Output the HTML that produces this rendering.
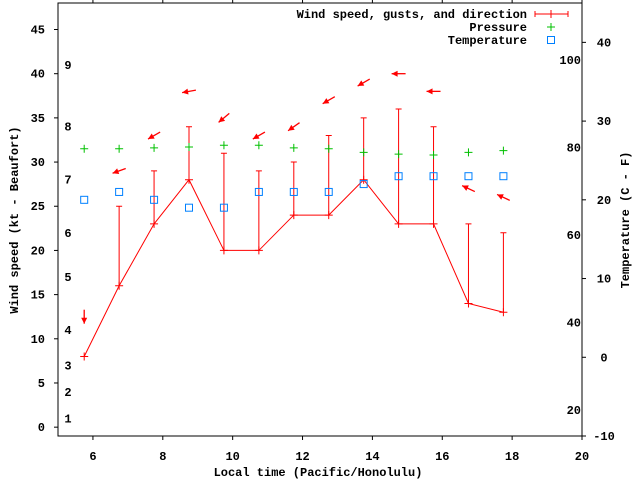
<!DOCTYPE html>
<html><head><meta charset="utf-8"><style>
body{margin:0;background:#fff;width:640px;height:480px;overflow:hidden}
svg text{font-family:"Liberation Mono",monospace;font-weight:bold;font-size:12px;fill:#000}
</style></head><body>
<svg id="chart" width="640" height="480" xmlns="http://www.w3.org/2000/svg"></svg>
<script>
const times=[5.75,6.75,7.75,8.75,9.75,10.75,11.75,12.75,13.75,14.75,15.75,16.75,17.75];
const windKt=[8,16,23,28,20,20,24,24,28,23,23,14,13];
const gustKt=[null,25,29,34,31,29,30,33,35,36,34,23,22];
const pressure=[31.5,31.5,31.6,31.7,31.9,31.9,31.6,31.5,31.1,30.9,30.8,31.1,31.3];
const tempC=[20,21,20,19,19,21,21,21,22,23,23,23,23];
const windDir=[360,70,60,80,50,60,55,60,60,90,90,115,115];
const arrowKt=[12.5,29,33,38,35,33,34,37,39,40,38,27,26];
const xTicks=[6,8,10,12,14,16,18,20];
const yTicks=[0,5,10,15,20,25,30,35,40,45];
const tTicks=[-10,0,10,20,30,40];
const fLabels=[20,40,60,80,100];
const bLabels=[[1,1],[2,4],[3,7],[4,11],[5,17],[6,22],[7,28],[8,34],[9,41]];

const L=58,R=582,T=3,B=436;
const X=v=>L+(v-5)*(R-L)/15;
const Y=v=>B-(v+1)*(B-T)/49;
const YT=v=>B-(v+10)*(B-T)/55;
const YF=f=>YT((f-32)*5/9);
const svg=document.getElementById('chart');
const NS='http://www.w3.org/2000/svg';
function mk(tag,attrs,name,parent){const e=document.createElementNS(NS,tag);for(const k in attrs)e.setAttribute(k,attrs[k]);


(parent||svg).appendChild(e);return e;}
function txt(x,y,s,name,anchor){const t=mk('text',{x:x,y:y,'text-anchor':anchor||'middle'},name);t.textContent=s;return t;}

mk('rect',{x:L,y:T,width:R-L,height:B-T,fill:'none',stroke:'#000','stroke-width':1},'plot-border');
xTicks.forEach(v=>{mk('line',{x1:X(v),y1:B,x2:X(v),y2:B+4,stroke:'#000'},'x-tick');
mk('line',{x1:X(v),y1:T,x2:X(v),y2:T-4,stroke:'#000'},'x-tick-top');
txt(X(v),B+24,String(v),'x-tick-label');});
yTicks.forEach(v=>{mk('line',{x1:L,y1:Y(v),x2:L-4,y2:Y(v),stroke:'#000'},'y-tick');
txt(L-13,Y(v)+4,String(v),'y-tick-label','end');});
tTicks.forEach(v=>{mk('line',{x1:R,y1:YT(v),x2:R+4,y2:YT(v),stroke:'#000'},'temp-tick');
txt(R+22,YT(v)+4,String(v),'temp-tick-label');});
fLabels.forEach(f=>txt(R-1,YF(f)+4,String(f),'fahrenheit-label','end'));
bLabels.forEach(b=>txt(68,Y(b[1])+4,String(b[0]),'beaufort-label'));

txt(318,476,'Local time (Pacific/Honolulu)','x-axis-title');
const yl=txt(0,0,'Wind speed (kt - Beaufort)','y-axis-title');yl.setAttribute('transform','translate(18,220) rotate(-90)');
const yr=txt(0,0,'Temperature (C - F)','y2-axis-title');yr.setAttribute('transform','translate(629,220) rotate(-90)');

// wind line
mk('polyline',{points:times.map((t,i)=>X(t)+','+Y(windKt[i])).join(' '),fill:'none',stroke:'#f00'},'wind-speed-line');
times.forEach((t,i)=>{const x=X(t),y=Y(windKt[i]);
mk('path',{d:`M${x-4},${y}H${x+4}M${x},${y-4}V${y+4}`,stroke:'#f00'},'wind-point');
if(gustKt[i]!=null){const g=Y(gustKt[i]);mk('path',{d:`M${x},${y}V${g}M${x-3},${g}H${x+3}`,stroke:'#f00'},'gust-bar');}
});
// pressure
times.forEach((t,i)=>{const x=X(t),y=Y(pressure[i]);
mk('path',{d:`M${x-4},${y}H${x+4}M${x},${y-4}V${y+4}`,stroke:'#00c000'},'pressure-point');});
// temperature
times.forEach((t,i)=>{const x=X(t),y=YT(tempC[i]);
mk('rect',{x:x-3.5,y:y-3.5,width:7,height:7,fill:'none',stroke:'#0080ff'},'temperature-point');});
// arrows
times.forEach((t,i)=>{const cx=X(t),cy=Y(arrowKt[i]);const b=(windDir[i]+180)*Math.PI/180;
const dx=Math.sin(b),dy=-Math.cos(b);const x1=cx-dx*7,y1=cy-dy*7,x2=cx+dx*7,y2=cy+dy*7;
const px=-dy,py=dx;
mk('line',{x1:x1,y1:y1,x2:x2,y2:y2,stroke:'#f00','stroke-width':1.3},'direction-arrow');
mk('polygon',{points:`${x2},${y2} ${x2-dx*6+px*3},${y2-dy*6+py*3} ${x2-dx*6-px*3},${y2-dy*6-py*3}`,fill:'#f00'},'direction-arrow-head');});

// legend
txt(527,18,'Wind speed, gusts, and direction','legend-wind-label','end');
mk('path',{d:'M535,14H568M535,11V17M568,11V17M551,10V18',stroke:'#f00'},'legend-wind-sample');
txt(527,31,'Pressure','legend-pressure-label','end');
mk('path',{d:'M547,27H555M551,23V31',stroke:'#00c000'},'legend-pressure-sample');
txt(527,44,'Temperature','legend-temperature-label','end');
mk('rect',{x:547.5,y:36.5,width:7,height:7,fill:'none',stroke:'#0080ff'},'legend-temperature-sample');
</script>
</body></html>
